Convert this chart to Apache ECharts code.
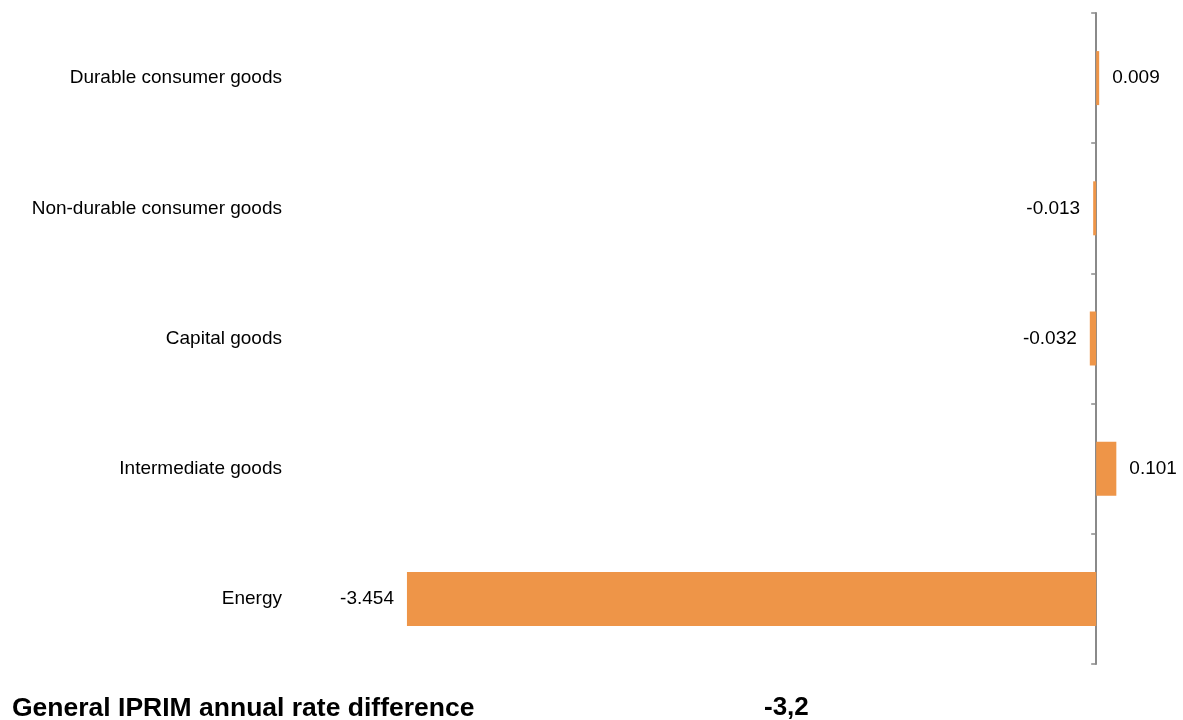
<!DOCTYPE html>
<html>
<head>
<meta charset="utf-8">
<script src="https://cdn.jsdelivr.net/npm/echarts@6/dist/echarts.min.js"></script>
<style>
  html, body { margin: 0; padding: 0; background: #fff; }
  #grafico { width: 1183px; height: 720px; }
</style>
</head>
<body>
<div id="grafico"></div>
<script>
// data (top to bottom)
const categories = [
    'Durable consumer goods',
    'Non-durable consumer goods',
    'Capital goods',
    'Intermediate goods',
    'Energy'
];
const values = [0.009, -0.013, -0.032, 0.101, -3.454];
const footerLabel = 'General IPRIM annual rate difference';
const footerValue = '-3,2';

const chartDom = document.getElementById('grafico');
const myChart = echarts.init(chartDom);

const font = '"Liberation Sans", Arial, sans-serif';

const option = {
    animation: false,
    grid: { left: 298, right: 7, top: 13, bottom: 56 },
    xAxis: {
        type: 'value',
        min: -4,
        max: 0.4,
        show: false
    },
    yAxis: [
        {
            // category labels on the left edge
            type: 'category',
            data: categories,
            inverse: true,
            position: 'left',
            axisLine: { show: false, onZero: false },
            axisTick: { show: false },
            axisLabel: { fontFamily: font, fontSize: 19, color: '#000', margin: 16, padding: [3, 0, 0, 0] }
        },
        {
            // the zero line with its ticks
            type: 'category',
            data: categories,
            inverse: true,
            position: 'left',
            axisLine: { show: true, onZero: true, lineStyle: { color: '#8a8a8a', width: 2 } },
            axisTick: { show: true, length: 5, lineStyle: { color: '#8a8a8a', width: 1.5 } },
            axisLabel: { show: false }
        }
    ],
    series: [
        {
            type: 'bar',
            yAxisIndex: 0,
            barWidth: 54,
            barMinHeight: 3,
            clip: false,
            itemStyle: { color: '#ee9548' },
            data: values.map(v => ({
                value: v,
                label: { position: v < 0 ? 'left' : 'right' }
            })),
            label: {
                show: true,
                distance: 13,
                fontFamily: font,
                fontSize: 19,
                color: '#000',
                formatter: p => p.value.toFixed(3)
            }
        }
    ],
    graphic: [
        {
            type: 'text',
            left: 12,
            top: 695,
            style: { text: footerLabel, font: 'bold 26.5px ' + font, fill: '#000' }
        },
        {
            type: 'text',
            left: 764,
            top: 695,
            style: { text: footerValue, font: 'bold 26px ' + font, fill: '#000' }
        }
    ]
};

option && myChart.setOption(option);

window.addEventListener('resize', () => {
    myChart.resize();
});
</script>
</body>
</html>
